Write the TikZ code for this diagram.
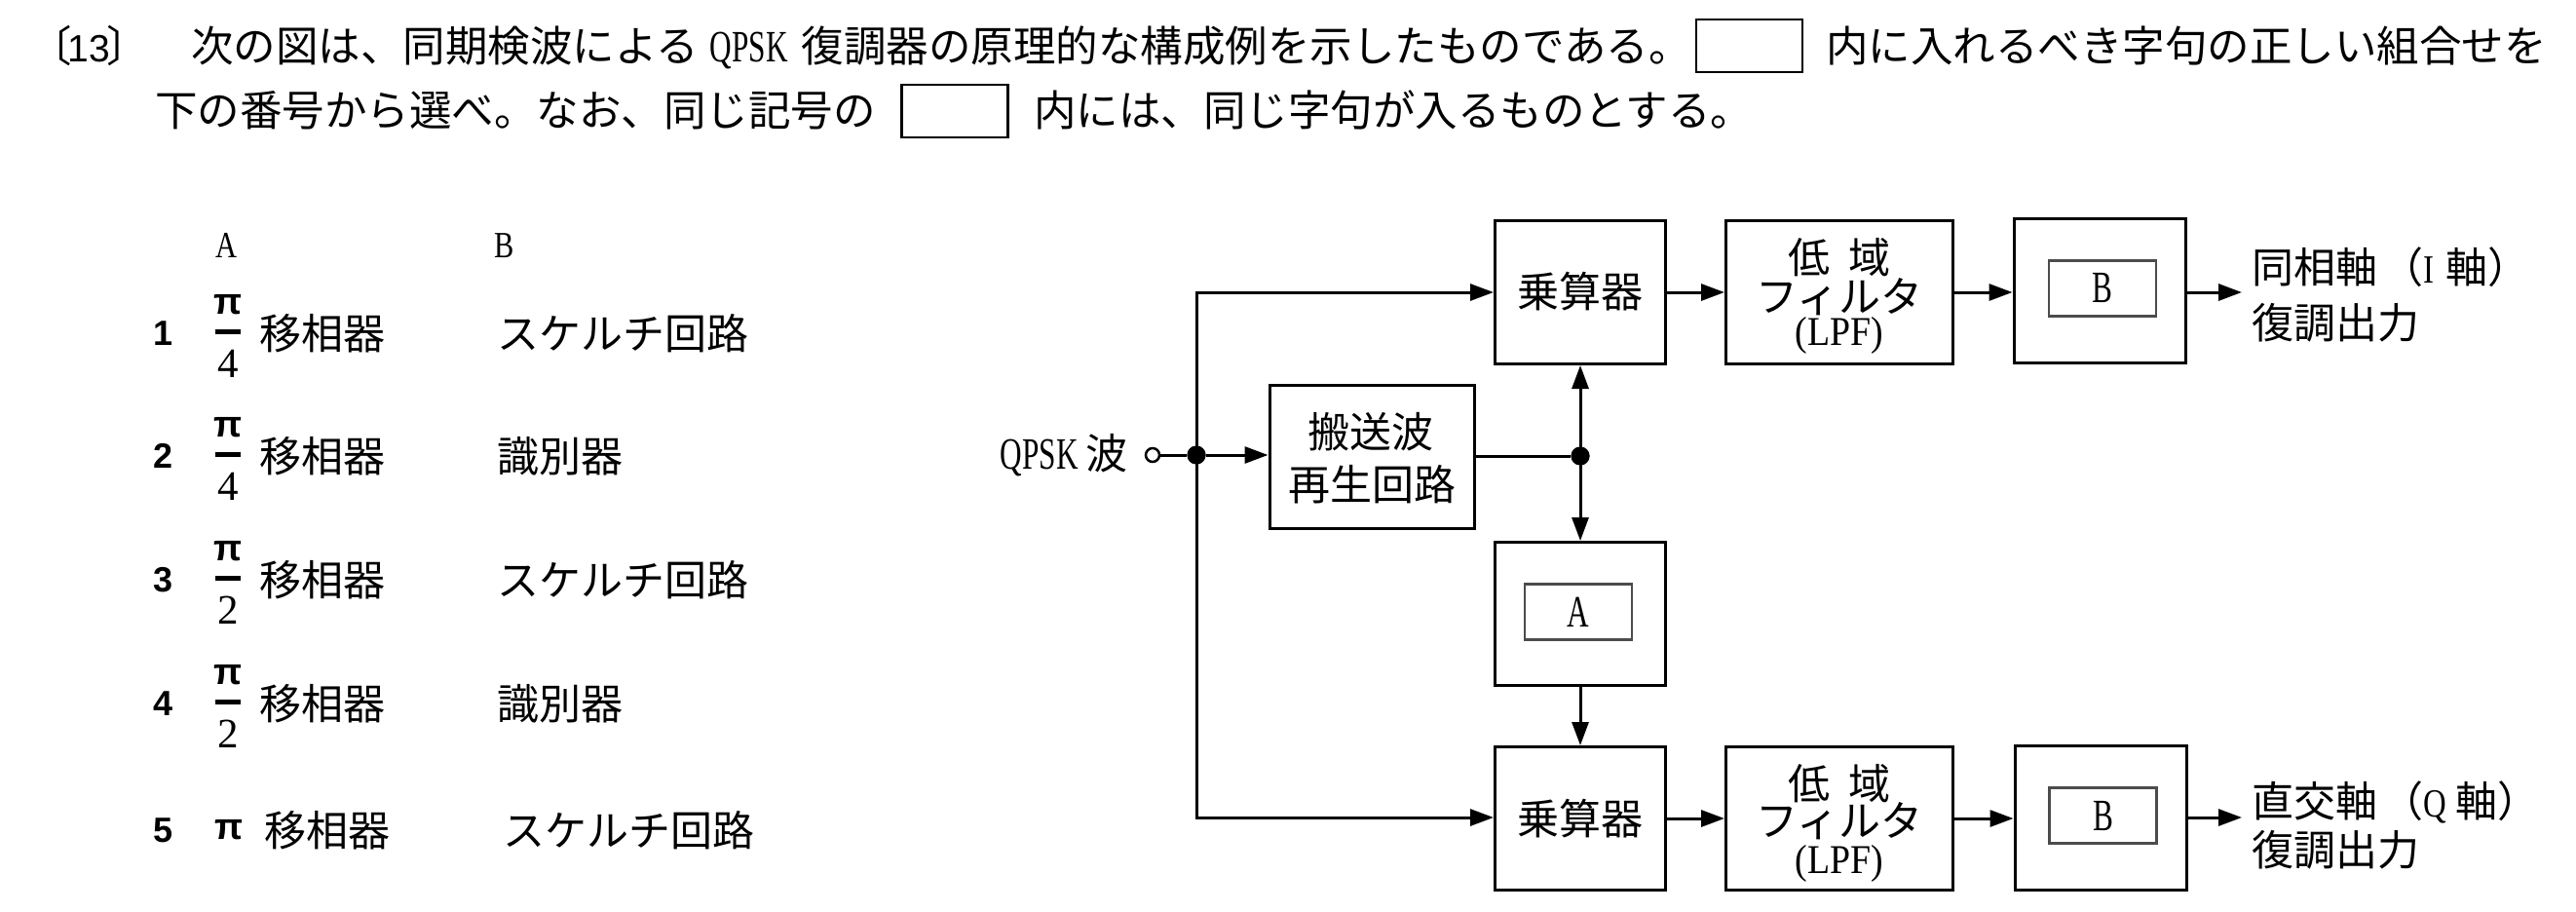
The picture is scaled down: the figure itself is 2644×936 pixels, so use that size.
\documentclass[tikz,border=0pt]{standalone}
\usepackage{fontspec}
\usepackage{graphicx}
\setmainfont{Noto Sans CJK JP}
\newfontfamily\lat[FakeStretch=0.68]{Liberation Serif}
\newfontfamily\latm[FakeStretch=0.8]{Liberation Serif}
\newfontfamily\latp[FakeStretch=0.9]{Liberation Serif}
\newfontfamily\latn{Liberation Serif}
\newfontfamily\gs{Liberation Sans}
\usetikzlibrary{arrows.meta}
\newcommand\Lt[1]{{\lat\fontsize{46}{48}\selectfont #1}}
\newcommand\Sm[1]{{\latm\fontsize{41}{44}\selectfont #1}}
\newcommand\Gn[1]{{\gs\fontsize{39}{40}\selectfont #1}}
\begin{document}
\begin{tikzpicture}[x=1pt,y=-1pt,
  txt/.style={inner sep=0pt, font=\fontsize{43}{50}\selectfont, text height=35.7pt, text depth=3pt},
  ttl/.style={inner sep=0pt, font=\fontsize{43.5}{50}\selectfont, text height=36pt, text depth=3pt},
  blk/.style={draw, line width=3pt, inner sep=0pt, minimum width=175pt, minimum height=147pt},
  inbox/.style={draw=black!70, line width=2.2pt, inner sep=0pt, minimum width=110pt, minimum height=57pt, font=\fontsize{46}{48}\selectfont\lat},
  arr/.style={line width=3pt, -{Triangle[length=24pt,width=17pt]}},
  dbl/.style={line width=3pt, {Triangle[length=24pt,width=17pt]}-{Triangle[length=24pt,width=17pt]}},
  wire/.style={line width=3pt},
  jdot/.style={circle, fill, inner sep=0pt, minimum size=19pt},
  term/.style={circle, draw, line width=2.5pt, fill=white, inner sep=0pt, minimum size=14pt},
  blank/.style={draw, line width=2.5pt, inner sep=0pt, minimum width=109pt, minimum height=54pt},
  latin/.style={inner sep=0pt, font=\fontsize{38}{40}\selectfont\latm},
  num/.style={inner sep=0pt, font=\fontsize{36}{40}\selectfont\gs\bfseries},
  pisym/.style={inner sep=0pt, font=\fontsize{38}{40}\selectfont\gs\bfseries},
  den/.style={inner sep=0pt, font=\fontsize{43}{46}\selectfont\latn},
  fbar/.style={line width=5pt}
]
\useasboundingbox (0,0) rectangle (2644,936);
\fill[white] (0,0) rectangle (2644,936);

% ---------- question text ----------
\node[ttl, anchor=west] (qno) at (30,47) {〔\hspace{-4pt}\Gn{13}\hspace{-4pt}〕};
\node[ttl, anchor=west] (t1a) at (196,47) {次の図は、同期検波による\hspace{12pt}\Lt{QPSK}\hspace{14pt}復調器の原理的な構成例を示したものである。};
\node[blank] (bx1) at (1795.5,47) {};
\node[ttl, anchor=west] (t1b) at (1874,47) {内に入れるべき字句の正しい組合せを};
\node[ttl, anchor=west] (t2a) at (159,113) {下の番号から選べ。なお、同じ記号の};
\node[blank] (bx2) at (980,114) {};
\node[ttl, anchor=west] (t2b) at (1061,113) {内には、同じ字句が入るものとする。};

% ---------- answer table ----------
\node[latin] (hA) at (232,252) {A};
\node[latin] (hB) at (518,252) {B};
\foreach \i/\y/\d/\b in {1/342/4/スケルチ回路, 2/468/4/識別器, 3/595/2/スケルチ回路, 4/722/2/識別器}{
  \node[num] (n\i) at (168,\y) {\i};
  \node[pisym] (p\i) at (234,\y-29) {π};
  \draw[fbar] (221,\y-2) -- (247,\y-2);
  \node[den] (d\i) at (234,\y+31) {\d};
  \node[txt, anchor=west] (a\i) at (266,\y) {移相器};
  \node[txt, anchor=west] (b\i) at (510,\y) {\b};
}
\node[num] (n5) at (168,852) {5};
\node[pisym] (p5) at (235,852) {π};
\node[txt, anchor=west] (a5) at (271,852) {移相器};
\node[txt, anchor=west] (b5) at (516,852) {スケルチ回路};

% ---------- block diagram ----------
\node[blk] (m1) at (1622,300) {};
\node[blk] (m2) at (1622,840) {};
\node[blk, minimum width=233pt] (lpf1) at (1888,300) {};
\node[blk, minimum width=233pt] (lpf2) at (1888,840) {};
\node[blk, minimum width=176pt, minimum height=148pt] (bo1) at (2155,298) {};
\node[blk, minimum width=176pt, minimum height=148pt] (bo2) at (2156,839) {};
\node[inbox] (bi1) at (2158,296) {B};
\node[inbox] (bi2) at (2158.5,837) {B};
\node[blk] (ao) at (1622,630) {};
\node[inbox] (ai) at (1620,628) {A};
\node[blk, minimum width=210pt, minimum height=147pt] (car) at (1408,468.5) {};

\node[txt] (m1t) at (1622,299) {乗算器};
\node[txt] (m2t) at (1622,840) {乗算器};
\node[txt] (cart1) at (1407,443) {搬送波};
\node[txt] (cart2) at (1408,497) {再生回路};
\node[txt] (l1a) at (1888,264) {低\hspace{19pt}域};
\node[txt] (l1b) at (1888,304) {フィルタ};
\node[inner sep=0pt, font=\fontsize{42}{44}\selectfont\latp] (l1c) at (1888,344) {(LPF)};
\node[txt] (l2a) at (1888,804) {低\hspace{19pt}域};
\node[txt] (l2b) at (1888,842) {フィルタ};
\node[inner sep=0pt, font=\fontsize{42}{44}\selectfont\latp] (l2c) at (1888,886) {(LPF)};

\node[txt, anchor=east] (qlab) at (1158,465) {\Lt{QPSK}\hspace{8pt}波};
\node[txt, anchor=west] (o1a) at (2311,274) {同相軸\hspace{4pt}（\Sm{I}\hspace{12pt}軸）};
\node[txt, anchor=west] (o1b) at (2311,331) {復調出力};
\node[txt, anchor=west] (o2a) at (2311,822) {直交軸\hspace{4pt}（\Sm{Q}\hspace{10pt}軸）};
\node[txt, anchor=west] (o2b) at (2311,872) {復調出力};

% connectors
\node[term] (in) at (1183,467) {};
\node[jdot] (j1) at (1228,467) {};
\coordinate (c1) at (1228,300);
\coordinate (c2) at (1228,839);
\draw[dbl] (c1 -| m1.west) -- (c1) -- (c2) -- (c2 -| m2.west);
\draw[wire] (in) -- (j1);
\draw[arr] (j1) -- (j1 -| car.west);
\node[jdot] (j2) at (1622,468) {};
\draw[wire] (car.east |- j2) -- (j2);
\draw[dbl] (m1.south) -- (ao.north);
\draw[arr] (ao.south) -- (m2.north);
\draw[arr] (m1.east) -- (lpf1.west);
\draw[arr] (m2.east) -- (lpf2.west);
\draw[arr] (lpf1.east) -- (lpf1.east -| bo1.west);
\draw[arr] (lpf2.east) -- (lpf2.east -| bo2.west);
\coordinate (out1) at (2301,300);
\coordinate (out2) at (2301,839);
\draw[arr] (bo1.east |- out1) -- (out1);
\draw[arr] (bo2.east |- out2) -- (out2);
\node[jdot] at (j1) {};
\node[jdot] at (j2) {};
\end{tikzpicture}
\end{document}
